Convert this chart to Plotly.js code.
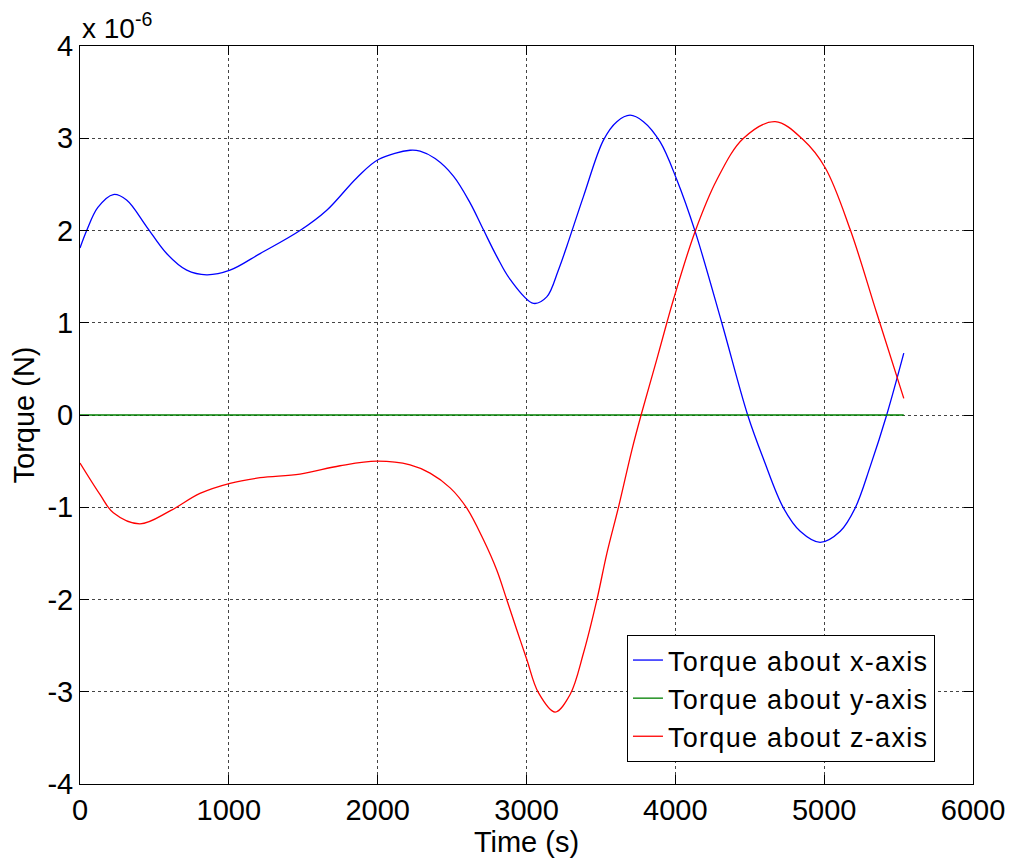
<!DOCTYPE html>
<html>
<head>
<meta charset="utf-8">
<script src="https://cdn.plot.ly/plotly-3.0.1.min.js"></script>
<style>
html,body{margin:0;padding:0;background:#fff;}
#chart{width:1011px;height:862px;}
.legendtext{letter-spacing:1.3px;}
</style>
</head>
<body>
<div id="chart"></div>
<script>
// Time (s) and torque values in units of 1e-6 N
var timeX = [0,45,120,224,313,448,582,717,851,1008,1210,1478,1658,1859,2005,2218,2285,2386,2509,2621,2710,2800,2890,3047,3136,3214,3271,3383,3517,3607,3696,3786,3898,4010,4133,4312,4486,4593,4727,4839,4973,5108,5208,5309,5420,5535];
var torqueX = [1.81,2.0,2.25,2.39,2.33,2.04,1.75,1.57,1.52,1.57,1.75,2.0,2.22,2.57,2.77,2.87,2.86,2.78,2.59,2.30,2.01,1.72,1.47,1.21,1.28,1.57,1.83,2.37,2.98,3.18,3.25,3.18,2.96,2.55,1.99,1.0,0.0,-0.48,-1.01,-1.26,-1.38,-1.26,-1.01,-0.56,0.0,0.67];

var timeY = [0,5535];
var torqueY = [0,0];

var timeZ = [0,134,224,403,605,806,1008,1210,1478,1747,1993,2218,2352,2487,2599,2710,2800,2867,2935,3002,3080,3192,3293,3383,3472,3540,3618,3708,3770,3875,3943,3987,4133,4279,4458,4671,4861,5007,5175,5354,5535];
var torqueZ = [-0.52,-0.86,-1.06,-1.18,-1.04,-0.85,-0.74,-0.68,-0.64,-0.55,-0.50,-0.54,-0.63,-0.79,-1.01,-1.35,-1.68,-2.0,-2.33,-2.65,-3.01,-3.22,-3.03,-2.58,-2.01,-1.5,-1.0,-0.38,0.0,0.6,1.0,1.25,1.99,2.55,3.0,3.18,2.98,2.68,2.01,1.1,0.18];

var seriesNames = ['Torque about x-axis','Torque about y-axis','Torque about z-axis'];
var xTicks = [0,1000,2000,3000,4000,5000,6000];
var yTicks = [-4,-3,-2,-1,0,1,2,3,4];

var FONT = 'Liberation Sans, Arial, Helvetica, sans-serif';

var traces = [
  {x: timeX, y: torqueX, name: seriesNames[0], mode: 'lines', line: {color: '#0000ff', width: 1.3, shape: 'spline', smoothing: 1}},
  {x: timeY, y: torqueY, name: seriesNames[1], mode: 'lines', line: {color: '#008000', width: 1.3}},
  {x: timeZ, y: torqueZ, name: seriesNames[2], mode: 'lines', line: {color: '#ff0000', width: 1.3, shape: 'spline', smoothing: 1}}
];

var axisCommon = {
  showline: true, linecolor: '#000', linewidth: 1, mirror: 'ticks',
  ticks: 'inside', ticklen: 9, tickcolor: '#000', tickwidth: 1,
  showgrid: true, gridcolor: '#444', griddash: 'dot', gridwidth: 1,
  zeroline: false,
  tickfont: {family: FONT, size: 29, color: '#000'}
};

var layout = {
  width: 1011, height: 862,
  paper_bgcolor: '#fff', plot_bgcolor: '#fff',
  margin: {l: 80, r: 38, t: 46, b: 78},
  font: {family: FONT, color: '#000'},
  showlegend: true,
  xaxis: Object.assign({}, axisCommon, {
    range: [0, 6000], tickvals: xTicks, ticktext: xTicks.map(String),
    title: {text: 'Time (s)', font: {family: FONT, size: 29, color: '#000'}, standoff: 0},
    automargin: false
  }),
  yaxis: Object.assign({}, axisCommon, {
    range: [-4, 4], tickvals: yTicks, ticktext: yTicks.map(String),
    title: {text: 'Torque (N)', font: {family: FONT, size: 29, color: '#000'}, standoff: 4},
    automargin: false
  }),
  legend: {
    x: 0.6125, y: 0.2019, xanchor: 'left', yanchor: 'top',
    bgcolor: '#fff', bordercolor: '#000', borderwidth: 1,
    font: {family: FONT, size: 27, color: '#000'},
    tracegroupgap: 0
  },
  annotations: [{
    text: 'x 10<sup>-6</sup>', xref: 'paper', yref: 'paper',
    x: 0, y: 1, xanchor: 'left', yanchor: 'bottom', showarrow: false,
    font: {family: FONT, size: 28, color: '#000'}, yshift: 0
  }]
};

Plotly.newPlot('chart', traces, layout, {displayModeBar: false, staticPlot: true});
</script>
</body>
</html>
